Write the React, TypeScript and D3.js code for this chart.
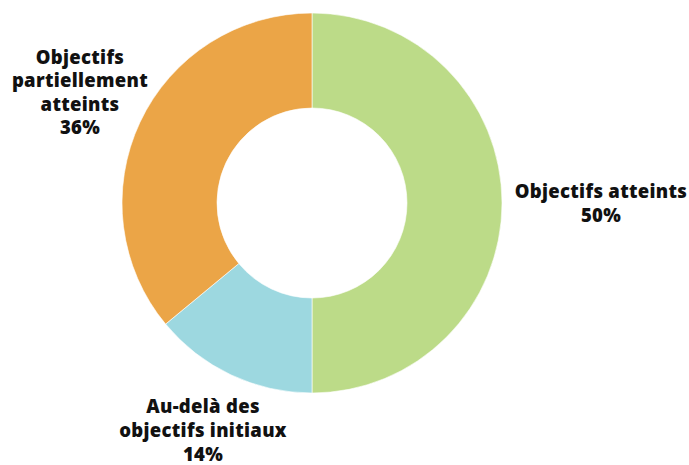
import React from "react";
import * as d3 from "d3";

const categories = ["Objectifs atteints", "Au-delà des objectifs initiaux", "Objectifs partiellement atteints"];
const values = [50, 14, 36];
const colors = ["#BCDB88", "#9DD8E0", "#EBA547"];
const labelLines = [
  ["Objectifs atteints", "50%"],
  ["Au-delà des", "objectifs initiaux", "14%"],
  ["Objectifs", "partiellement", "atteints", "36%"],
];
const labelPos = [
  { x: 601, y: 198 },
  { x: 203, y: 413 },
  { x: 80, y: 64 },
];

export default function App() {
  const W = 689, H = 465;
  const cx = 312, cy = 203, R = 190, r = 95;
  const pie = d3.pie<number>().value((d) => d).sort(null);
  const arcs = pie(values);
  const arc = d3.arc<d3.PieArcDatum<number>>().innerRadius(r).outerRadius(R);
  const lh = [24, 24, 23.3];
  return (
    <svg width={W} height={H} style={{ position: "absolute", left: 0, top: 0 }}>
      <rect width={W} height={H} fill="#fff" />
      <g transform={`translate(${cx},${cy})`}>
        {arcs.map((a, i) => (
          <path key={categories[i]} d={arc(a) || ""} fill={colors[i]} stroke="#fff" strokeWidth={0.6} />
        ))}
      </g>
      {labelLines.map((lines, i) => (
        <text
          key={i}
          x={labelPos[i].x}
          y={labelPos[i].y}
          textAnchor="middle"
          fontFamily="'Open Sans', sans-serif"
          fontWeight={800}
          fontSize={18.5}
          letterSpacing={0.3}
          fill="#111"
        >
          {lines.map((l, j) => (
            <tspan key={j} x={labelPos[i].x} dy={j === 0 ? 0 : lh[i]}>
              {l}
            </tspan>
          ))}
        </text>
      ))}
    </svg>
  );
}
